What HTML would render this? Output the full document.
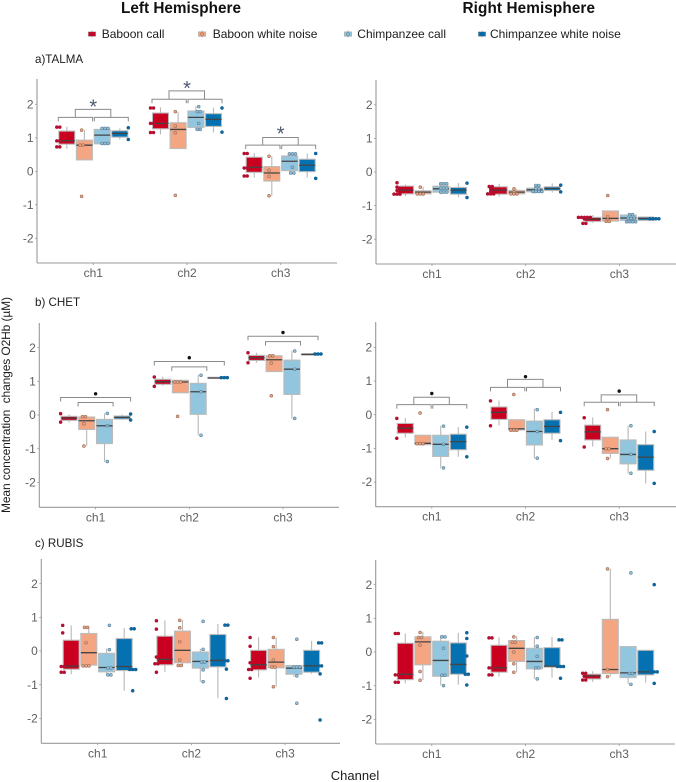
<!DOCTYPE html>
<html lang="en">
<head>
<meta charset="utf-8">
<title>Mean concentration changes O2Hb by channel</title>
<style>
html,body{margin:0;padding:0;background:#fff;width:676px;height:782px;overflow:hidden}
svg{display:block;filter:blur(.35px)}
text{font-family:"Liberation Sans",sans-serif}
.tick{font-size:12px;fill:#5f5f5f}
.legend{font-size:12px;fill:#1c1c1c}
.panel-label{font-size:11.6px;fill:#1c1c1c}
</style>
</head>
<body>
<svg id="chart" xmlns="http://www.w3.org/2000/svg" width="676" height="782" viewBox="0 0 676 782">
  <rect x="0" y="0" width="676" height="782" fill="#fff"/>
  <text x="121" y="13" font-size="15.3" font-weight="700" fill="#111" textLength="120">Left Hemisphere</text>
  <text x="462.5" y="13" font-size="15.3" font-weight="700" fill="#111" textLength="132.5">Right Hemisphere</text>
  <text class="panel-label" x="35" y="63">a)TALMA</text>
  <text class="panel-label" x="35" y="306">b) CHET</text>
  <text class="panel-label" x="35" y="547">c) RUBIS</text>
  <text transform="translate(10,513) rotate(-90)" font-size="12" fill="#1c1c1c" textLength="216" xml:space="preserve">Mean concentration  changes O2Hb (µM)</text>
  <text x="355" y="780" font-size="13" fill="#1c1c1c" text-anchor="middle">Channel</text>
  <g id="legend"></g>
  <g id="panels"></g>
</svg>
<script>
const categories = ['ch1', 'ch2', 'ch3'];
const seriesNames = ['Baboon call', 'Baboon white noise', 'Chimpanzee call', 'Chimpanzee white noise'];
const yTickValues = [-2, -1, 0, 1, 2];

/* Each row: whisker low, Q1, median, Q3, whisker high. Four rows per channel. */
const talmaLeftStats = [
  [.67,.81,.915,1.2,1.33],[.34,.34,.78,.93,1.23],[.82,.82,1.08,1.25,1.3],[.95,1.02,1.13,1.21,1.28],
  [1.1,1.27,1.43,1.74,1.91],[.68,.68,1.25,1.45,1.78],[1.23,1.31,1.61,1.8,1.95],[1.16,1.34,1.55,1.72,1.9],
  [-.19,-.03,.12,.42,.55],[-.73,-.29,-.05,.14,.45],[-.1,.02,.3,.46,.55],[-.19,-.01,.18,.36,.53]
];
const talmaLeftPoints = [
  [1.32,1.32,.91,.91,.73,.73],[1.23,.78,.78,-.75],[1.28,1.28,1.28,.83,.83,.83],[1.3,.95],
  [1.89,1.89,1.43,1.43,1.16,1.16],[1.78,1.35,1.15,-.72],[1.93,1.78,1.78,1.43,1.25,1.25],[1.89,1.17],
  [.53,.53,.1,.1,-.14,-.14],[.45,.03,-.15,-.73],[.52,.52,.52,.12,-.05,-.05],[.53,-.21]
];
const talmaRightStats = [
  [-.72,-.65,-.54,-.42,-.37],[-.71,-.65,-.6,-.56,-.44],[-.66,-.6,-.5,-.42,-.34],[-.75,-.66,-.54,-.46,-.33],
  [-.73,-.66,-.54,-.44,-.35],[-.7,-.65,-.6,-.55,-.5],[-.64,-.59,-.53,-.48,-.37],[-.61,-.55,-.49,-.44,-.34],
  [-1.52,-1.47,-1.4,-1.35,-1.28],[-1.5,-1.46,-1.38,-1.16,-1.16],[-1.5,-1.44,-1.37,-1.28,-1.23],[-1.44,-1.44,-1.38,-1.34,-1.33]
];
const talmaRightPoints = [
  [-.32,-.45,-.55,-.66,-.66,-.66],[-.45,-.65,-.65,-.65],[-.35,-.35,-.35,-.48,-.48,-.48,-.6,-.6,-.6],[-.33,-.76],
  [-.43,-.43,-.5,-.58,-.65,-.65,-.65],[-.5,-.6,-.65,-.65,-.65],[-.4,-.4,-.5,-.5,-.58,-.58,-.58,-.58],[-.39,-.59],
  [-1.35,-1.35,-1.35,-1.35,-1.35,-1.4,-1.53,-1.53],[-.7,-1.33,-1.43,-1.47,-1.47],[-1.27,-1.27,-1.38,-1.38,-1.38,-1.48,-1.48,-1.48,-1.48],[-1.39,-1.39,-1.39,-1.39]
];
const chetLeftStats = [
  [-.22,-.16,-.09,-.04,.02],[-.92,-.43,-.17,-.06,-.02],[-1.39,-.85,-.32,-.13,.05],[-.15,-.12,-.07,-.03,.02],
  [.86,.91,.99,1.06,1.14],[.66,.66,.98,1.03,1.05],[-.6,.02,.69,.94,1.19],[1.09,1.09,1.1,1.12,1.12],
  [1.55,1.62,1.7,1.77,1.85],[1.29,1.29,1.64,1.76,1.78],[-.11,.61,1.36,1.63,1.91],[1.78,1.78,1.8,1.82,1.82]
];
const chetLeftPoints = [
  [.04,-.21],[-.05,-.05,-.26,-.92],[.05,-.32,-1.38],[.03,-.15],
  [1.13,.85],[.98,.98,.98,-.04],[1.18,.69,-.6],[1.11,1.11,1.11],
  [1.85,1.55],[1.76,1.76,1.54,.57],[1.9,1.36,-.1],[1.81,1.81,1.81]
];
const chetRightStats = [
  [-.68,-.55,-.4,-.26,-.1],[-.92,-.89,-.85,-.61,-.61],[-1.59,-1.24,-.88,-.61,-.33],[-1.25,-1.04,-.8,-.58,-.37],
  [-.32,-.14,.07,.23,.42],[-.5,-.45,-.42,-.15,-.15],[-1.3,-.9,-.5,-.19,.18],[-.75,-.55,-.35,-.15,.08],
  [-.95,-.75,-.51,-.31,-.08],[-1.3,-1.15,-1.01,-.67,-.67],[-1.74,-1.46,-1.18,-.75,-.33],[-2.04,-1.65,-1.26,-.89,-.5]
];
const chetRightPoints = [
  [-.11,-.7],[.05,-.86,-.86,-.86],[-.34,-.88,-1.58],[-.37,-1.25],
  [.41,-.33],[.6,-.46,-.46,-.46],[.15,-.5,-1.29],[.07,-.77],
  [-.09,-.96],[.15,-1.01,-1.01,-1.3],[-.33,-1.18,-1.74],[-.5,-2.04]
];
const rubisLeftStats = [
  [-.69,-.54,-.45,.32,.76],[-.42,-.42,-.05,.52,.72],[-.71,-.62,-.49,-.07,.07],[-1.18,-.58,-.46,.37,.68],
  [-.62,-.41,-.25,.44,.91],[-.47,-.35,.02,.59,.92],[-.91,-.51,-.31,-.03,.07],[-1.4,-.47,-.28,.49,.8],
  [-.79,-.56,-.41,.02,.41],[-1.06,-.5,-.33,.05,.4],[-.76,-.69,-.51,-.43,-.43],[-.68,-.63,-.44,.02,.3]
];
const rubisLeftPoints = [
  [.76,.54,-.46,-.46,-.63,-.63],[.7,.7,.25,-.44,-.44,-.44],[.76,.04,-.5,-.5,-.71,-.71],[.66,.66,-.55,-.55,-.55,-1.18],
  [.9,.65,-.18,-.38,-.38,-.63],[.91,.69,.28,-.27,-.43,-.43],[.88,.05,-.33,-.33,-.56,-.91],[.77,.77,-.29,-.29,-.54,-1.41],
  [.4,.14,-.35,-.55,-.55,-.81],[.4,.13,-.27,-.48,-.48,-1.06],[.35,-.48,-.48,-.48,-.74,-1.55],[.24,.24,-.44,-.44,-.68,-2.05]
];
const rubisRightStats = [
  [-.93,-.82,-.66,.26,.55],[-.83,-.38,.3,.45,.6],[-.99,-.72,-.25,.32,.5],[-.97,-.66,-.37,.27,.57],
  [-.73,-.6,-.47,.2,.44],[-.6,-.28,.11,.34,.47],[-.79,-.5,-.28,.11,.44],[-.76,-.45,-.42,.13,.45],
  [-.89,-.8,-.71,-.66,-.57],[-.73,-.64,-.52,.97,2.47],[-.95,-.76,-.62,.16,.16],[-.91,-.68,-.59,.05,.05]
];
const rubisRightPoints = [
  [.55,.55,-.68,-.68,-.9,-.9],[.58,.43,.43,.2,-.58,-.84],[.45,.45,.11,-.69,-.69,-1],[.57,.4,-.12,-.66,-.66,-.98],
  [.42,.42,-.47,-.47,-.68,-.68],[.45,.29,.29,0,-.35,-.6],[.43,.17,-.13,-.47,-.47,-.8],[.36,.36,-.43,-.43,-.43,-.78],
  [-.63,-.63,-.72,-.83,-.83],[2.47,-.52,-.73],[2.35,-.64,-.64,-.96],[2,-.59,-.59,-.59,-.93]
];

/* Bracket levels per channel: lower level, upper level, significance mark level. */
const talmaLeftBrackets = [[1.61,1.85,1.97],[2.15,2.4,2.51],[.78,1.01,1.16]];
const chetLeftBrackets = [[.37,.52,.63],[1.43,1.59,1.7],[2.18,2.34,2.45]];
const chetRightBrackets = [[.3,.52,.63],[.81,1.05,1.13],[.37,.59,.7]];

const fills = ['#ca0020', '#f4a582', '#92c5de', '#0571b0'];
const dotFills = ['#b40f30', '#f0a07c', '#8fc0da', '#0a68a4'];
const dotEdges = ['#b40f30', '#96705c', '#5c7f96', '#0f5f92'];

const svgNS = 'http://www.w3.org/2000/svg';
const boxOffsets = [-26.5, -8.9, 8.9, 26.5];
const dotOffsets = [-35, -11.7, 11.7, 35];
const slug = s => s.toLowerCase().replace(/\s+/g, '-');

function make(tag, parent, attrs) {
  const el = document.createElementNS(svgNS, tag);
  for (const k in attrs) el.setAttribute(k, attrs[k]);
  parent.appendChild(el);
  return el;
}

function drawLegend() {
  const root = document.getElementById('legend');
  const iconX = [92, 202, 348, 482];
  const textX = [101.7, 212.7, 357.3, 490];
  seriesNames.forEach((name, i) => {
    const g = make('g', root, {});
    
    
    const stem = make('line', g, {x1: iconX[i], x2: iconX[i], y1: 30.5, y2: 37.5, stroke: '#aaa', 'stroke-width': 1});
    
    
    const key = make('rect', g, {x: iconX[i] - 3.7, y: 31.8, width: 7.4, height: 4.6, fill: fills[i], stroke: '#aaa', 'stroke-width': .5});
    
    
    const dot = make('circle', g, {cx: iconX[i], cy: 34, r: 1.5, fill: dotFills[i], stroke: dotEdges[i], 'stroke-width': .6});
    
    
    const label = make('text', g, {x: textX[i], y: 38, class: 'legend'});
    label.textContent = name;
    
    
  });
}

function drawPanel(p) {
  const root = make('g', document.getElementById('panels'), {});
  
  
  const y = v => p.zero - v * p.unit;
  const cx = i => p.first + i * 93.7;

  const yAxis = make('line', root, {x1: p.axis, x2: p.axis, y1: p.top, y2: p.bottom, stroke: '#999', 'stroke-width': 1.1});
  
  
  const xAxis = make('line', root, {x1: p.axis, x2: p.right, y1: p.bottom, y2: p.bottom, stroke: '#999', 'stroke-width': 1.1});
  
  

  yTickValues.forEach(v => {
    const mark = make('line', root, {x1: p.axis - 2, x2: p.axis, y1: y(v), y2: y(v), stroke: '#999', 'stroke-width': .8});
    
    
    const label = make('text', root, {x: p.axis - 3.5, y: y(v) + 4.2, class: 'tick', 'text-anchor': 'end'});
    label.textContent = String(v);
    
    
  });

  categories.forEach((cat, c) => {
    const mark = make('line', root, {x1: cx(c), x2: cx(c), y1: p.bottom, y2: p.bottom + 2, stroke: '#999', 'stroke-width': .8});
    
    
    const label = make('text', root, {x: cx(c), y: p.bottom + 14, class: 'tick', 'text-anchor': 'middle'});
    label.textContent = cat;
    
    

    seriesNames.forEach((name, s) => {
      const row = p.stats[c * 4 + s];
      const bx = cx(c) + boxOffsets[s];
      const group = make('g', root, {});
      
      

      const whisker = make('line', group, {x1: bx, x2: bx, y1: y(row[0]), y2: y(row[4]), stroke: '#b8b8b8', 'stroke-width': 1.1});
      
      
      const box = make('rect', group, {x: bx - 8, y: y(row[3]), width: 16, height: Math.max(y(row[1]) - y(row[3]), .5), fill: fills[s], stroke: '#bbb', 'stroke-width': 1.1});
      
      
      const median = make('line', group, {x1: bx - 8, x2: bx + 8, y1: y(row[2]), y2: y(row[2]), stroke: '#444', 'stroke-width': 1.3});
      
      

      const stacks = new Map();
      p.points[c * 4 + s].forEach(v => stacks.set(v, (stacks.get(v) || 0) + 1));
      stacks.forEach((count, v) => {
        for (let k = 0; k < count; k++) {
          const dot = make('circle', group, {
            cx: cx(c) + dotOffsets[s] + (k - (count - 1) / 2) * 3,
            cy: y(v), r: 1.45, fill: dotFills[s], stroke: dotEdges[s], 'stroke-width': .6
          });
          
          
        }
      });
    });

    const lv = p.brackets ? p.brackets[c] : null;
    if (lv) {
      const drawBracket = (a, b, level) => {
        const path = make('path', root, {
          d: 'M' + (cx(c) + a) + ' ' + (y(level) + 4) + 'V' + y(level) + 'H' + (cx(c) + b) + 'V' + (y(level) + 4),
          fill: 'none', stroke: '#8a8a8a', 'stroke-width': 1
        });
        
        
      };
      if (p.bracketStyle[c] === 'nested') {
        drawBracket(-35, 35, lv[1]);
        drawBracket(-17.5, 17.5, lv[0]);
      } else {
        drawBracket(-35, -.7, lv[0]);
        drawBracket(1, 35, lv[0]);
        const upper = make('path', root, {
          d: 'M' + (cx(c) - 18) + ' ' + y(lv[0]) + 'V' + y(lv[1]) + 'H' + (cx(c) + 17.5) + 'V' + y(lv[0]),
          fill: 'none', stroke: '#8a8a8a', 'stroke-width': 1
        });
        
        
      }
      if (p.mark === 'star') {
        const star = make('text', root, {x: cx(c), y: y(lv[2]) + 8, 'font-size': 20, 'text-anchor': 'middle', fill: '#4f5a72'});
        star.textContent = '*';
        
        
      } else {
        const bullet = make('circle', root, {cx: cx(c), cy: y(lv[2]), r: 1.7, fill: '#111'});
        
        
      }
    }
  });
}

drawLegend();
drawPanel({name: 'talma-left', stats: talmaLeftStats, points: talmaLeftPoints, brackets: talmaLeftBrackets, bracketStyle: ['double','double','double'], mark: 'star', axis: 37, right: 337, top: 79, bottom: 263, zero: 171.3, unit: 33.5, first: 93.3});
drawPanel({name: 'talma-right', stats: talmaRightStats, points: talmaRightPoints, axis: 376, right: 676, top: 80, bottom: 264, zero: 172, unit: 33.6, first: 432});
drawPanel({name: 'chet-left', stats: chetLeftStats, points: chetLeftPoints, brackets: chetLeftBrackets, bracketStyle: ['nested','nested','nested'], mark: 'dot', axis: 39.3, right: 339, top: 323, bottom: 507.3, zero: 415, unit: 33.67, first: 95.6});
drawPanel({name: 'chet-right', stats: chetRightStats, points: chetRightPoints, brackets: chetRightBrackets, bracketStyle: ['double','double','double'], mark: 'dot', axis: 375.7, right: 676, top: 322, bottom: 506.7, zero: 414.7, unit: 33.67, first: 431.8});
drawPanel({name: 'rubis-left', stats: rubisLeftStats, points: rubisLeftPoints, axis: 41.3, right: 340, top: 559, bottom: 743.3, zero: 651, unit: 33.67, first: 97.7});
drawPanel({name: 'rubis-right', stats: rubisRightStats, points: rubisRightPoints, axis: 375.7, right: 675, top: 560, bottom: 744, zero: 652, unit: 33.67, first: 431.8});
</script>
</body>
</html>
